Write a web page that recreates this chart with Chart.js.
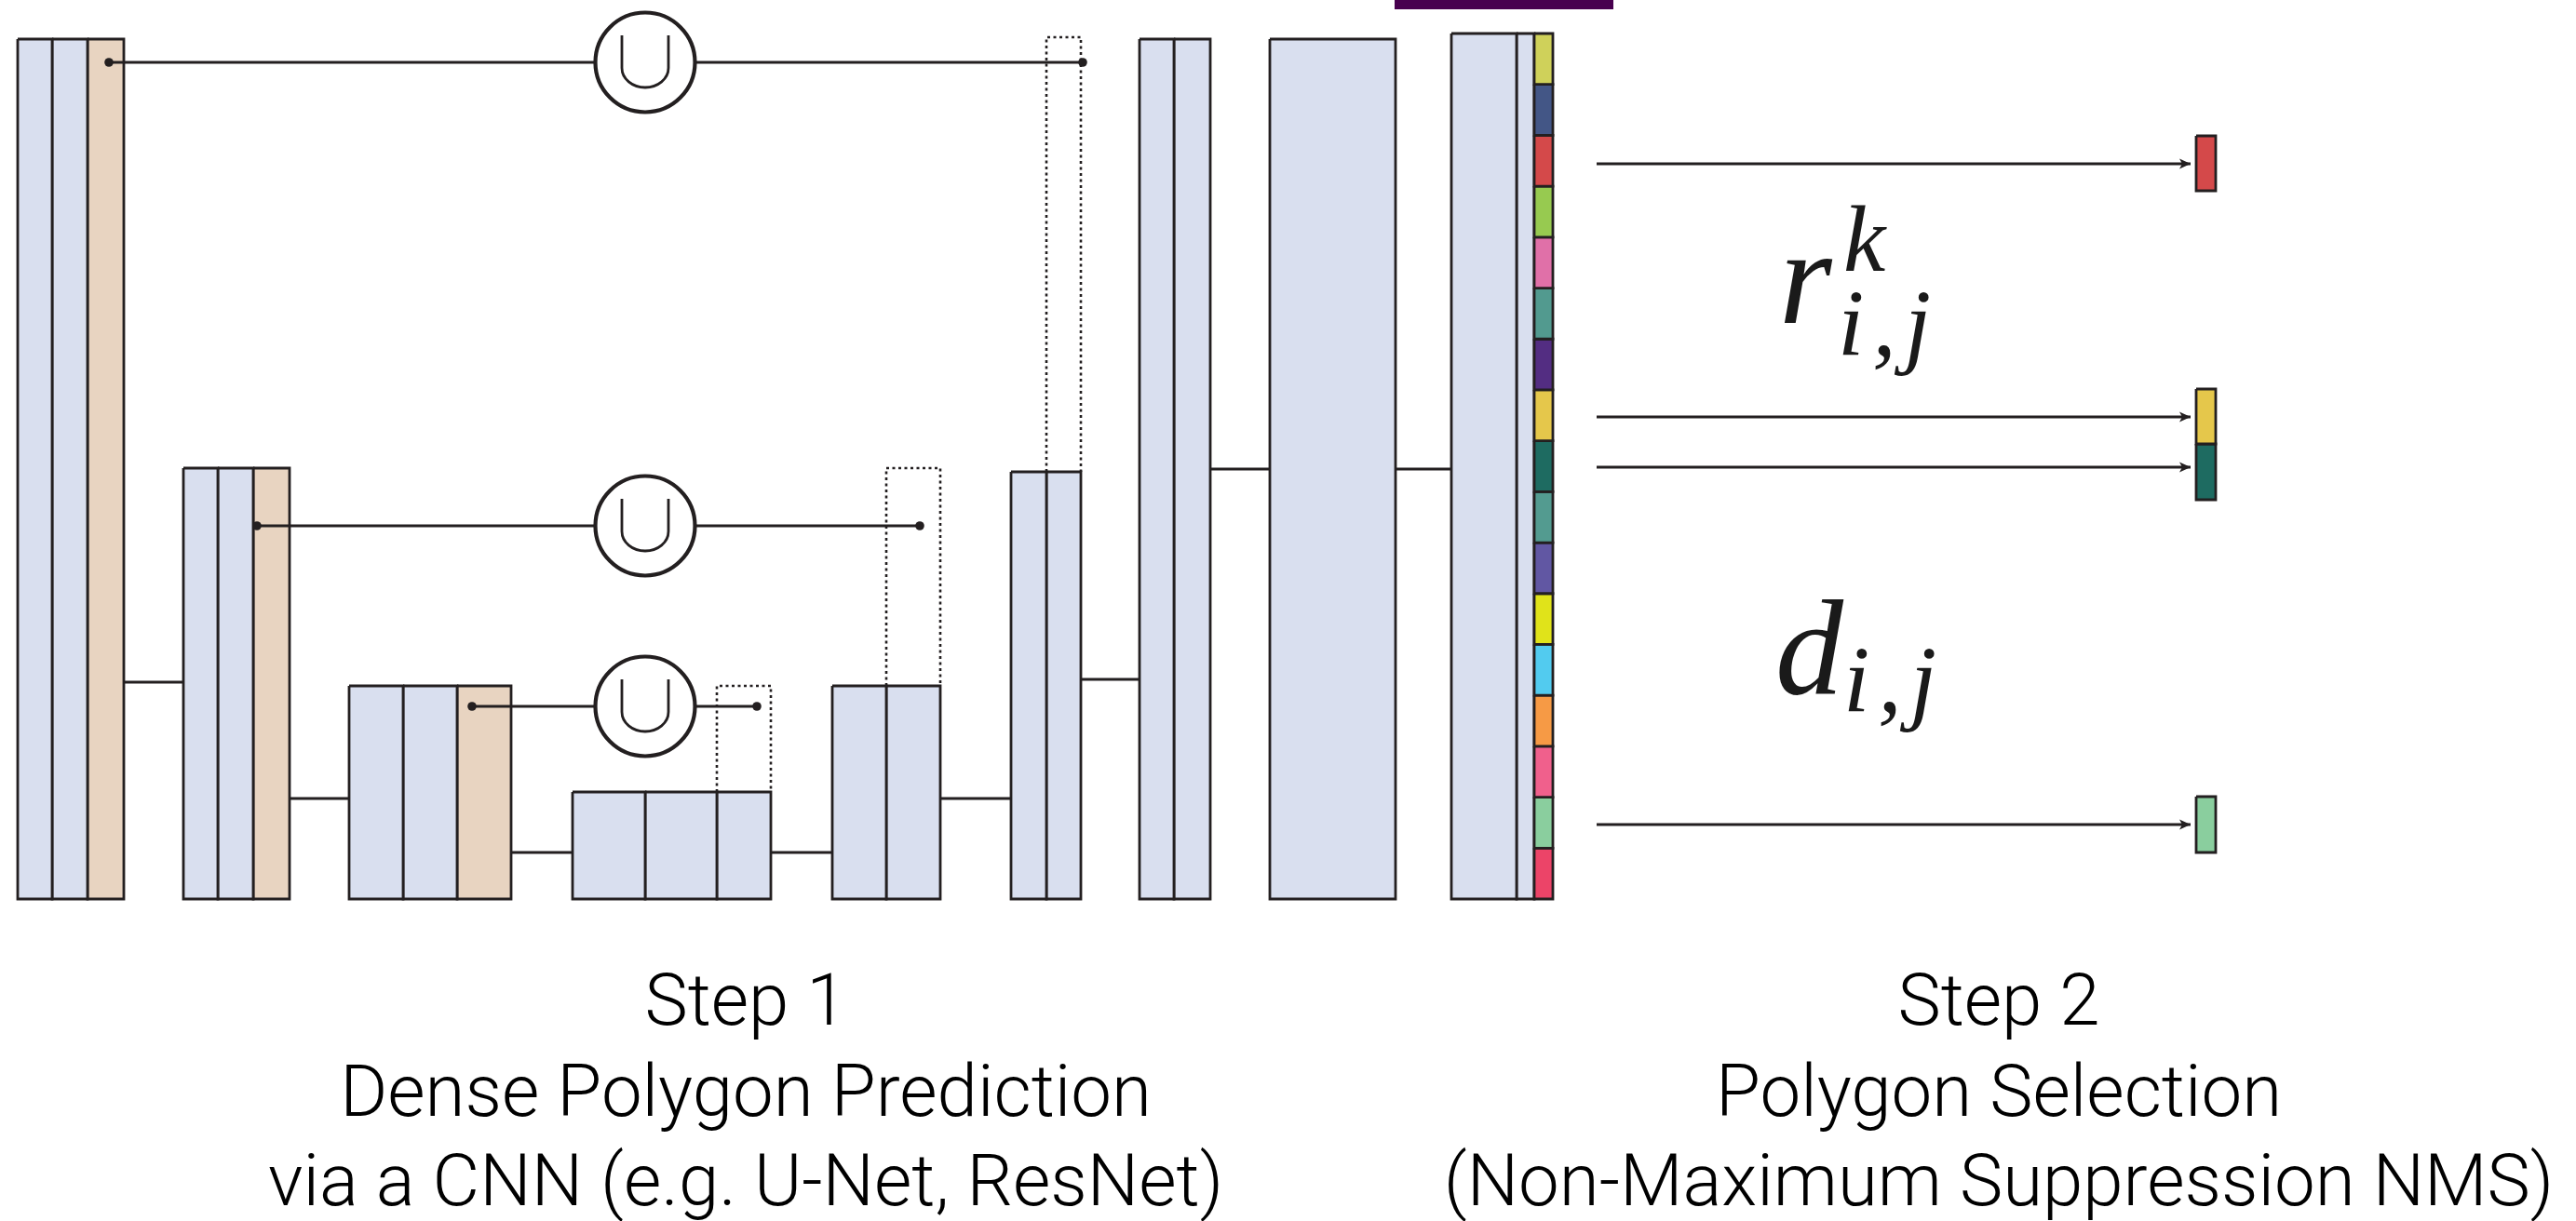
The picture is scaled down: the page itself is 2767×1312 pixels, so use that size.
<!DOCTYPE html>
<html>
<head>
<meta charset="utf-8">
<script src="https://cdn.jsdelivr.net/npm/chart.js@4.4.1/dist/chart.umd.min.js"></script>
<style>
  html, body { margin: 0; padding: 0; background: #fff; }
  canvas { display: block; }
</style>
</head>
<body>
<canvas id="diagram" width="2767" height="1312"></canvas>
<script>
// network layers: column edges (left, dividers, right), top of each layer, common bottom
const layerNames = ['enc1', 'enc2', 'enc3', 'bottleneck', 'dec3', 'dec2', 'dec1', 'conv', 'head'];
const layerEdges = [
  [19, 56, 94, 133],
  [197, 234, 272, 311],
  [375, 433, 491, 549],
  [615, 693, 770, 828],
  [894, 952, 1010],
  [1086, 1124, 1161],
  [1224, 1261, 1300],
  [1364, 1499],
  [1559, 1629, 1648, 1668]
];
const layerTops = [42, 503, 737, 851, 737, 507, 42, 42, 36];
const layerBottom = 966;
const pooledColumn = [2, 2, 2, -1, -1, -1, -1, -1, -1];
const linkY = [733, 858, 916, 916, 858, 730, 504, 504];

// skip connections through the union nodes
const skipY = [67, 565, 759];
const skipFrom = [117, 276, 507];
const skipTo = [1163, 988, 813];
const unionX = 693;
const upLeft = [1124, 952, 770];
const upRight = [1161, 1010, 828];
const upTop = [40, 503, 737];
const upBottom = [507, 737, 851];

// output strip of the head layer
const stripColors = ['#CFD15A', '#435686', '#D4494A', '#97CA50', '#E070A8', '#529A8F', '#532D82', '#E5C74B',
  '#1E6B61', '#539B90', '#6157A3', '#E0E31A', '#52CBEF', '#F69A45', '#F0608C', '#8ACE9E', '#EC4468'];
const selectedCells = [2, 7, 8, 15];
const arrowY = [176, 448, 502, 886];
const arrowFrom = 1715;
const arrowTo = 2353;
const outputLeft = 2359;
const outputRight = 2380;
const outputTops = [146, 418, 477, 856];
const outputBottoms = [205, 477, 537, 916];
const bannerX = [1498, 1733];
const bannerY = [0, 10];

// labels
const mathBase = ['r', 'd'];
const mathSup = ['k', ''];
const mathSub = ['i,j', 'i,j'];
const mathX = [1911, 1907];
const mathY = [347, 746];
const supX = [1980, 0];
const supY = [291, 0];
const subX = [1974, 1980];
const subY = [382, 765];
const captions = [
  ['Step 1', 'Dense Polygon Prediction', 'via a CNN (e.g. U-Net, ResNet)'],
  ['Step 2', 'Polygon Selection', '(Non-Maximum Suppression NMS)']
];
const captionX = [801, 2147];
const captionY = [1101, 1199, 1295];

const ink = '#231F20';
const blue = '#D9DFEF';
const tan = '#E8D4C1';

const datasets = [];

function addRect(l, r, t, b, fill, order) {
  datasets.push({
    data: [{x: l, y: t}, {x: r, y: t}, {x: r, y: b}, {x: l, y: b}, {x: l, y: t}],
    borderColor: ink,
    borderWidth: 2.8,
    backgroundColor: fill,
    fill: 'shape',
    pointRadius: 0,
    borderJoinStyle: 'miter',
    order: order
  });
}

function addLine(points, opts) {
  datasets.push(Object.assign({
    data: points,
    borderColor: ink,
    borderWidth: 2.8,
    fill: false,
    pointRadius: 0,
    order: 4
  }, opts || {}));
}

// blocks
layerEdges.forEach((edges, li) => {
  for (let c = 0; c < edges.length - 1; c++) {
    const isStrip = layerNames[li] === 'head' && c === edges.length - 2;
    if (isStrip) continue;
    const fill = c === pooledColumn[li] ? tan : blue;
    addRect(edges[c], edges[c + 1], layerTops[li], layerBottom, fill, 8);
  }
});

// colour strip of the head
const headEdges = layerEdges[8];
const cellH = (layerBottom - layerTops[8]) / stripColors.length;
stripColors.forEach((col, i) => {
  addRect(headEdges[2], headEdges[3], layerTops[8] + i * cellH, layerTops[8] + (i + 1) * cellH, col, 7);
});

// links between consecutive layers
linkY.forEach((yv, i) => {
  const a = layerEdges[i][layerEdges[i].length - 1];
  const b = layerEdges[i + 1][0];
  addLine([{x: a, y: yv}, {x: b, y: yv}]);
});

// dotted upsampling boxes
upLeft.forEach((l, i) => {
  addLine([{x: l, y: upBottom[i]}, {x: l, y: upTop[i]}, {x: upRight[i], y: upTop[i]}, {x: upRight[i], y: upBottom[i]}],
    {borderDash: [3, 3.5], borderWidth: 2.6, order: 6});
});

// skip connections
skipY.forEach((yv, i) => {
  addLine([{x: skipFrom[i], y: yv}, {x: skipTo[i], y: yv}]);
});
datasets.push({
  data: skipY.flatMap((yv, i) => [{x: skipFrom[i], y: yv}, {x: skipTo[i], y: yv}]),
  showLine: false,
  pointRadius: 4.8,
  pointBackgroundColor: ink,
  pointBorderWidth: 0,
  order: 1
});
datasets.push({
  data: skipY.map(yv => ({x: unionX, y: yv})),
  showLine: false,
  pointRadius: 53.5,
  pointBackgroundColor: '#ffffff',
  pointBorderColor: ink,
  pointBorderWidth: 4.2,
  order: 2
});

// selection arrows and selected outputs
arrowY.forEach(yv => addLine([{x: arrowFrom, y: yv}, {x: arrowTo, y: yv}], {order: 3}));
selectedCells.forEach((cell, i) => {
  addRect(outputLeft, outputRight, outputTops[i], outputBottoms[i], stripColors[cell], 7);
});

// banner at the top edge
datasets.push({
  data: [{x: bannerX[0], y: bannerY[0]}, {x: bannerX[1], y: bannerY[0]}, {x: bannerX[1], y: bannerY[1]}, {x: bannerX[0], y: bannerY[1]}, {x: bannerX[0], y: bannerY[0]}],
  borderWidth: 0,
  borderColor: 'rgba(0,0,0,0)',
  backgroundColor: '#48004F',
  fill: 'shape',
  pointRadius: 0,
  order: 9
});

const extras = {
  id: 'extras',
  afterDatasetsDraw(chart) {
    const {ctx, scales: {x, y}} = chart;
    ctx.save();

    // union signs inside the circles
    ctx.strokeStyle = ink;
    ctx.lineWidth = 2.8;
    skipY.forEach(yv => {
      const cx = x.getPixelForValue(unionX);
      const cy = y.getPixelForValue(yv);
      ctx.beginPath();
      ctx.moveTo(cx - 25, cy - 29);
      ctx.lineTo(cx - 25, cy + 6);
      ctx.ellipse(cx, cy + 6, 25, 21, 0, Math.PI, 0, true);
      ctx.lineTo(cx + 25, cy - 29);
      ctx.stroke();
    });

    // arrow heads
    ctx.fillStyle = ink;
    arrowY.forEach(yv => {
      const tx = x.getPixelForValue(arrowTo);
      const ty = y.getPixelForValue(yv);
      ctx.beginPath();
      ctx.moveTo(tx, ty);
      ctx.lineTo(tx - 12, ty - 5.5);
      ctx.lineTo(tx - 9, ty);
      ctx.lineTo(tx - 12, ty + 5.5);
      ctx.closePath();
      ctx.fill();
    });

    // math labels
    ctx.fillStyle = '#1a1a1a';
    ctx.textBaseline = 'alphabetic';
    ctx.textAlign = 'left';
    mathBase.forEach((b, i) => {
      ctx.font = 'italic 146px "Liberation Serif", serif';
      ctx.fillText(b, x.getPixelForValue(mathX[i]), y.getPixelForValue(mathY[i]));
      ctx.font = 'italic 102px "Liberation Serif", serif';
      if (mathSup[i]) ctx.fillText(mathSup[i], x.getPixelForValue(supX[i]), y.getPixelForValue(supY[i]));
      ctx.letterSpacing = '9px';
      ctx.fillText(mathSub[i], x.getPixelForValue(subX[i]), y.getPixelForValue(subY[i]));
      ctx.letterSpacing = '0px';
    });

    // captions
    ctx.fillStyle = '#000';
    ctx.textAlign = 'center';
    ctx.font = '300 78px Roboto, "Helvetica Neue", sans-serif';
    captions.forEach((lines, c) => {
      lines.forEach((t, k) => {
        ctx.fillText(t, x.getPixelForValue(captionX[c]), y.getPixelForValue(captionY[k]));
      });
    });
    ctx.restore();
  }
};

new Chart(document.getElementById('diagram'), {
  type: 'line',
  data: {datasets: datasets},
  options: {
    responsive: false,
    animation: false,
    events: [],
    layout: {padding: 0, autoPadding: false},
    elements: {line: {tension: 0}},
    scales: {
      x: {type: 'linear', min: 0, max: 2767, display: false},
      y: {type: 'linear', min: 0, max: 1312, reverse: true, display: false}
    },
    plugins: {
      legend: {display: false},
      tooltip: {enabled: false}
    }
  },
  plugins: [extras]
});
</script>
</body>
</html>
